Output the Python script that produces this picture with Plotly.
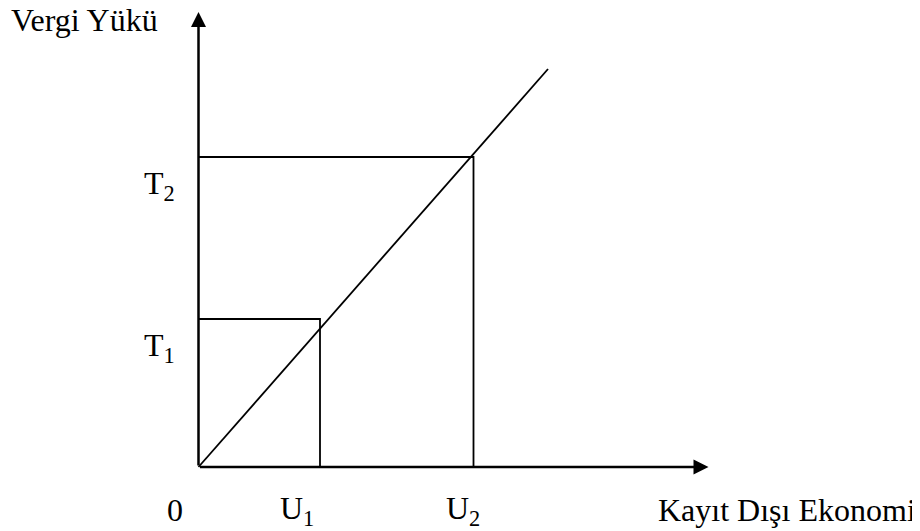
import plotly.graph_objects as go

# Values in chart units, measured from the origin (0, 0)
u_values = [121.5, 275]          # U1, U2 on the horizontal axis
t_values = [148, 310]            # T1, T2 on the vertical axis
u_labels = ["U<sub>1</sub>", "U<sub>2</sub>"]
t_labels = ["T<sub>1</sub>", "T<sub>2</sub>"]
diag_x = [0, 349.5]
diag_y = [0, 398]
x_axis_end = 510
y_axis_end = 455

font = dict(family="Liberation Serif, Times New Roman, serif", size=32, color="black")

fig = go.Figure()

# diagonal line
fig.add_trace(go.Scatter(x=diag_x, y=diag_y, mode="lines",
                         line=dict(color="black", width=1.8), hoverinfo="skip"))

# rectangles for (U1, T1) and (U2, T2)
for u, t in zip(u_values, t_values):
    fig.add_trace(go.Scatter(x=[0, u, u], y=[t, t, 0], mode="lines",
                             line=dict(color="black", width=1.8), hoverinfo="skip"))

# axes with arrowheads
fig.add_annotation(x=x_axis_end, y=0, ax=0, ay=0, xref="x", yref="y",
                   axref="x", ayref="y", text="", showarrow=True,
                   arrowhead=2, arrowsize=1.2, arrowwidth=2.5, arrowcolor="black")
fig.add_annotation(x=0, y=y_axis_end, ax=0, ay=0, xref="x", yref="y",
                   axref="x", ayref="y", text="", showarrow=True,
                   arrowhead=2, arrowsize=1.2, arrowwidth=2.5, arrowcolor="black")

# labels
fig.add_annotation(x=0, xref="paper", y=447, text="Vergi Yükü", showarrow=False,
                   xanchor="left", yanchor="middle", font=font, xshift=1)
fig.add_annotation(x=457, y=-43, text="Kayıt Dışı Ekonomi", showarrow=False,
                   xanchor="left", yanchor="middle", font=font)
fig.add_annotation(x=-34, y=-43, text="0", showarrow=False,
                   xanchor="left", yanchor="middle", font=font)
for u, lab, dx in zip(u_values, u_labels, [-42, -30]):
    fig.add_annotation(x=u + dx, y=-43, text=lab, showarrow=False,
                       xanchor="left", yanchor="middle", font=font)
for t, lab in zip(t_values, t_labels):
    fig.add_annotation(x=-22, y=t, text=lab, showarrow=False,
                       xanchor="right", yanchor="middle", font=font, yshift=-28)

fig.update_layout(
    width=912, height=523,
    margin=dict(l=0, r=0, t=0, b=0),
    paper_bgcolor="white", plot_bgcolor="white",
    showlegend=False,
)
# the page body has an 8px margin, so the ranges are shifted to match
fig.update_xaxes(range=[-190.5, 721.5], visible=False, fixedrange=True)
fig.update_yaxes(range=[-64, 459], visible=False, fixedrange=True)

fig.write_html("out.html")
